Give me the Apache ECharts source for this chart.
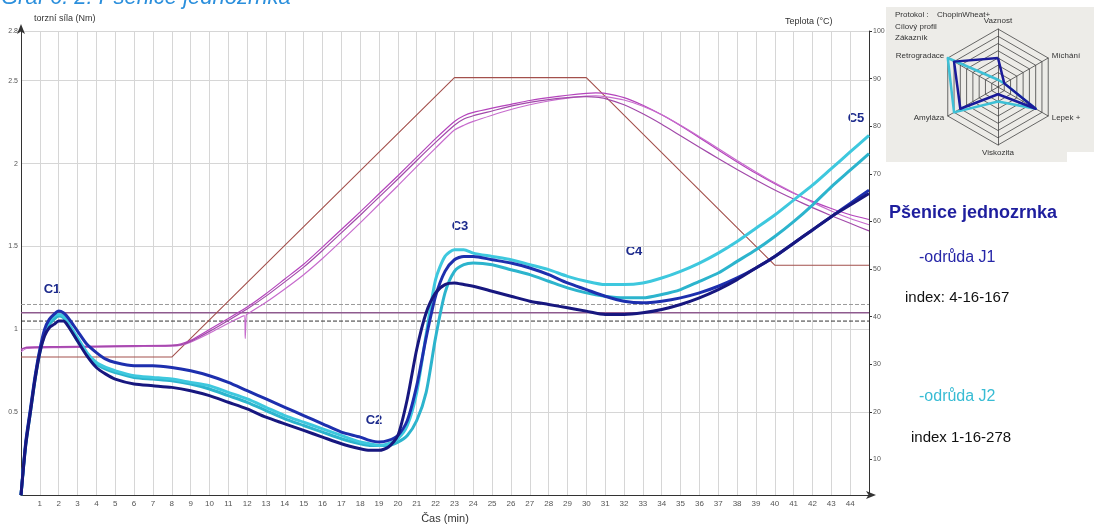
<!DOCTYPE html>
<html>
<head>
<meta charset="utf-8">
<script src="https://cdn.jsdelivr.net/npm/echarts@6/dist/echarts.min.js"></script>
<style>
  html, body { margin: 0; padding: 0; background: #ffffff; }
  #chart { width: 1094px; height: 529px; }
</style>
</head>
<body>
<div id="chart"></div>
<script>
// Mixolab torque curves (Nm) over mixing time (min)
const minutes = [0, 0.25, 0.5, 0.75, 1, 1.25, 1.5, 1.75, 2, 2.25, 2.5,
  3, 3.5, 4, 4.5,
  5, 6, 7, 8, 9, 10, 11, 12, 13, 14, 15, 16, 17, 18,
  18.5, 19, 19.5, 20, 20.5, 21, 21.5, 22, 22.5, 23, 23.5, 24,
  25, 26, 27, 28, 29, 30, 31, 32, 33, 34, 35, 36, 37, 38, 39, 40, 41, 42, 43, 44, 45];

const torqueJ1a = [0, 0.32, 0.52, 0.72, 0.88, 1.00, 1.06, 1.09, 1.11, 1.10, 1.07,
  0.99, 0.91, 0.86, 0.82,
  0.80, 0.78, 0.78, 0.77, 0.75, 0.72, 0.68, 0.63, 0.58, 0.53, 0.48, 0.43, 0.38, 0.35,
  0.33, 0.32, 0.33, 0.36, 0.45, 0.66, 0.95, 1.20, 1.35, 1.42, 1.44, 1.44,
  1.42, 1.40, 1.37, 1.33, 1.28, 1.24, 1.20, 1.17, 1.16, 1.17, 1.19, 1.22, 1.26, 1.31, 1.37, 1.44, 1.52, 1.60, 1.68, 1.76, 1.84];

const torqueJ1b = [0, 0.30, 0.50, 0.70, 0.86, 0.96, 1.01, 1.03, 1.05, 1.05, 1.02,
  0.93, 0.84, 0.77, 0.73,
  0.70, 0.67, 0.66, 0.65, 0.63, 0.60, 0.56, 0.52, 0.47, 0.43, 0.39, 0.35, 0.31, 0.28,
  0.27, 0.27, 0.29, 0.36, 0.58, 0.88, 1.10, 1.22, 1.27, 1.28, 1.27, 1.26,
  1.23, 1.20, 1.17, 1.15, 1.13, 1.11, 1.09, 1.09, 1.10, 1.12, 1.15, 1.19, 1.24, 1.30, 1.37, 1.44, 1.52, 1.60, 1.68, 1.75, 1.82];

const torqueJ2a = [0, 0.31, 0.51, 0.71, 0.87, 0.98, 1.05, 1.08, 1.09, 1.08, 1.04,
  0.95, 0.86, 0.80, 0.77,
  0.75, 0.72, 0.71, 0.70, 0.68, 0.66, 0.62, 0.58, 0.53, 0.48, 0.44, 0.40, 0.36, 0.32,
  0.31, 0.30, 0.31, 0.34, 0.42, 0.62, 0.97, 1.30, 1.44, 1.48, 1.48, 1.46,
  1.44, 1.42, 1.39, 1.36, 1.32, 1.29, 1.27, 1.27, 1.28, 1.31, 1.35, 1.40, 1.46, 1.53, 1.61, 1.69, 1.78, 1.87, 1.97, 2.07, 2.17];

const torqueJ2b = [0, 0.30, 0.50, 0.70, 0.86, 0.97, 1.03, 1.06, 1.08, 1.07, 1.03,
  0.93, 0.85, 0.79, 0.76,
  0.74, 0.71, 0.70, 0.69, 0.67, 0.64, 0.60, 0.56, 0.51, 0.46, 0.42, 0.38, 0.34, 0.31,
  0.30, 0.30, 0.30, 0.32, 0.36, 0.45, 0.62, 0.95, 1.22, 1.35, 1.39, 1.40,
  1.39, 1.36, 1.33, 1.29, 1.25, 1.22, 1.20, 1.19, 1.19, 1.21, 1.24, 1.29, 1.34, 1.41, 1.48, 1.56, 1.65, 1.75, 1.86, 1.96, 2.06];

// Dough temperature readings (°C)
const tempMinutes = [0, 0.3, 2, 4, 6, 8, 8.5,
  9, 10, 11, 12, 13, 14, 15, 16, 17, 18, 19, 20, 21, 22, 23,
  23.5, 24, 25, 26, 27, 28, 29, 30, 30.5,
  31, 32, 33, 34, 35, 36, 37, 38, 39, 40, 41, 42, 43, 44, 45];

const doughTemp1 = [33.0, 33.6, 33.7, 33.8, 33.9, 34.0, 34.3,
  35.0, 37.3, 39.6, 42.0, 44.8, 47.9, 51.0, 54.6, 58.3, 62.0, 65.8, 69.6, 73.5, 77.4, 81.0,
  82.2, 82.9, 83.8, 84.6, 85.4, 86.0, 86.5, 86.9, 87.0,
  86.9, 86.0, 84.4, 82.4, 80.1, 77.6, 75.0, 72.5, 70.1, 67.9, 65.9, 64.2, 62.7, 61.4, 60.4];

const doughTemp2 = [32.6, 33.3, 33.5, 33.6, 33.7, 33.8, 34.0,
  34.6, 36.5, 38.6, 40.5, 43.0, 45.8, 48.8, 52.2, 55.9, 59.7, 63.6, 67.5, 71.5, 75.4, 79.2,
  80.2, 81.0, 82.3, 83.5, 84.5, 85.3, 85.9, 86.3, 86.4,
  86.2, 85.5, 84.2, 82.4, 80.2, 77.8, 75.3, 72.8, 70.4, 68.1, 66.0, 64.0, 62.2, 60.6, 59.3];

const doughTemp3 = [33.2, 33.5, 33.6, 33.7, 33.8, 33.9, 34.1,
  34.8, 36.9, 39.2, 41.6, 44.3, 47.3, 50.4, 53.9, 57.6, 61.3, 65.1, 68.9, 72.8, 76.6, 80.2,
  81.5, 82.2, 83.2, 84.2, 85.0, 85.6, 86.0, 86.2, 86.1,
  85.8, 84.5, 82.6, 80.4, 78.0, 75.6, 73.2, 70.9, 68.7, 66.6, 64.7, 62.9, 61.2, 59.6, 58.0];

// short sensor dropout in the second temperature trace
const dropoutMinutes = [11.85, 11.9, 11.95];
const dropoutTemps = [40.2, 35.4, 40.3];

// Programmed temperature profile of the protocol (°C)
const profileMinutes = [0, 8, 23, 30, 40, 45];
const profileTemps = [31.5, 31.5, 90.2, 90.2, 50.8, 50.8];

// C1 target band (Nm)
const c1Band = { low: 1.05, mid: 1.1, high: 1.15 };

// Axis tick labels
const torqueTicks = [0.5, 1, 1.5, 2, 2.5, 2.8];
const tempTicks = [10, 20, 30, 40, 50, 60, 70, 80, 90, 100];

// Profiler indices
const profilerAxes = ['Vaznost', 'Retrogradace', 'Amyláza', 'Viskozita', 'Lepek +', 'Míchání'];
const profilerJ1 = [4, 7, 6, 1, 6, 1];
const profilerJ2 = [1, 8, 7, 2, 6, 1];

const pairs = (xs, ys) => xs.map((x, i) => [x, ys[i]]);
const temp2 = pairs(tempMinutes, doughTemp2)
  .concat(pairs(dropoutMinutes, dropoutTemps))
  .sort((a, b) => a[0] - b[0]);

const FONT = 'Liberation Sans, Arial, sans-serif';

const chart = echarts.init(document.getElementById('chart'), null, { renderer: 'canvas' });

function torqueLine(name, data, color) {
  return {
    name, type: 'line', xAxisIndex: 0, yAxisIndex: 0,
    data: pairs(minutes, data), showSymbol: false, smooth: 0.25,
    lineStyle: { color, width: 3 }, silent: true, z: 5
  };
}
function tempLine(name, data, color) {
  return {
    name, type: 'line', xAxisIndex: 0, yAxisIndex: 1,
    data, showSymbol: false, smooth: 0.2,
    lineStyle: { color, width: 1.2 }, silent: true, z: 3
  };
}
function bandLine(value, color, type, width) {
  return {
    type: 'line', xAxisIndex: 0, yAxisIndex: 0,
    data: [[0, value], [45, value]], showSymbol: false,
    lineStyle: { color, type, width }, silent: true, z: 2
  };
}

const option = {
  animation: false,
  backgroundColor: '#ffffff',
  textStyle: { fontFamily: FONT },
  grid: { left: 21, right: 225, top: 31, bottom: 27, containLabel: false },
  xAxis: {
    type: 'value', min: 0, max: 45, interval: 1,
    name: 'Čas (min)', nameLocation: 'middle', nameGap: 17,
    nameTextStyle: { fontFamily: FONT, fontSize: 11, color: '#333' },
    axisLine: { lineStyle: { color: '#333', width: 1 }, symbol: ['none', 'arrow'], symbolSize: [6, 10], symbolOffset: [0, 7] },
    axisTick: { show: false },
    axisLabel: {
      fontSize: 8, color: '#555', margin: 5, fontFamily: FONT,
      formatter: v => (v >= 1 && v <= 44) ? String(v) : ''
    },
    splitLine: { show: true, lineStyle: { color: '#d6d6d6', width: 1 } }
  },
  yAxis: [
    {
      type: 'value', min: 0, max: 2.8, position: 'left',
      axisLine: { show: true, lineStyle: { color: '#333', width: 1 }, symbol: ['none', 'arrow'], symbolSize: [6, 10], symbolOffset: [0, 7] },
      axisTick: { show: false },
      axisLabel: {
        fontSize: 7, color: '#555', margin: 3, fontFamily: FONT,
        customValues: torqueTicks,
        formatter: v => String(v)
      },
      splitLine: { show: true, lineStyle: { color: '#d6d6d6', width: 1 } },
      interval: 0.5
    },
    {
      type: 'value', min: 2.5, max: 100, position: 'right',
      axisLine: { show: true, lineStyle: { color: '#333', width: 1 } },
      axisTick: { show: true, length: 3, customValues: tempTicks, lineStyle: { color: '#333' } },
      axisLabel: { fontSize: 7, color: '#555', margin: 4, fontFamily: FONT, customValues: tempTicks },
      splitLine: { show: false }
    }
  ],
  radar: {
    center: [998, 87], radius: 58, startAngle: 90, shape: 'polygon', splitNumber: 8,
    indicator: profilerAxes.map(n => ({ name: n, max: 8 })),
    axisName: { color: '#333', fontSize: 8, fontFamily: FONT },
    nameGap: 4,
    axisLine: { lineStyle: { color: '#444', width: 0.8 } },
    splitLine: { lineStyle: { color: '#444', width: 0.8 } },
    splitArea: { show: false }
  },
  graphic: [
    // profiler inset background
    { type: 'rect', shape: { x: 886, y: 7, width: 208, height: 145 }, style: { fill: '#edece8' }, z: -10, silent: true },
    { type: 'rect', shape: { x: 886, y: 152, width: 181, height: 10 }, style: { fill: '#edece8' }, z: -10, silent: true },
    { type: 'text', x: 895, y: 15, style: { text: 'Protokol :', font: '8px ' + FONT, fill: '#333', textVerticalAlign: 'middle' } },
    { type: 'text', x: 937, y: 15, style: { text: 'ChopinWheat+', font: '8px ' + FONT, fill: '#333', textVerticalAlign: 'middle' } },
    { type: 'text', x: 895, y: 27, style: { text: 'Cílový profil', font: '8px ' + FONT, fill: '#333', textVerticalAlign: 'middle' } },
    { type: 'text', x: 895, y: 38, style: { text: 'Zákazník', font: '8px ' + FONT, fill: '#333', textVerticalAlign: 'middle' } },

    // heading, partly above the page edge
    { type: 'text', x: 1, y: 9, style: { text: 'Graf 6. 2: Pšenice jednozrnka', font: 'italic 22px ' + FONT, fill: '#2b8fdc', textVerticalAlign: 'bottom' } },

    // axis titles
    { type: 'text', x: 34, y: 19, style: { text: 'torzní síla (Nm)', font: '9px ' + FONT, fill: '#333', textVerticalAlign: 'middle' } },
    { type: 'text', x: 785, y: 22, style: { text: 'Teplota (°C)', font: '9px ' + FONT, fill: '#333', textVerticalAlign: 'middle' } },

    // stage markers
    { type: 'text', x: 52, y: 289, style: { text: 'C1', font: 'bold 13px ' + FONT, fill: '#1c2a8c', textAlign: 'center', textVerticalAlign: 'middle' } },
    { type: 'text', x: 374, y: 420, style: { text: 'C2', font: 'bold 13px ' + FONT, fill: '#1c2a8c', textAlign: 'center', textVerticalAlign: 'middle' } },
    { type: 'text', x: 460, y: 226, style: { text: 'C3', font: 'bold 13px ' + FONT, fill: '#1c2a8c', textAlign: 'center', textVerticalAlign: 'middle' } },
    { type: 'text', x: 634, y: 251, style: { text: 'C4', font: 'bold 13px ' + FONT, fill: '#1c2a8c', textAlign: 'center', textVerticalAlign: 'middle' } },
    { type: 'text', x: 856, y: 118, style: { text: 'C5', font: 'bold 13px ' + FONT, fill: '#1c2a8c', textAlign: 'center', textVerticalAlign: 'middle' } },

    // sample description
    { type: 'text', x: 889, y: 213, style: { text: 'Pšenice jednozrnka', font: 'bold 18px ' + FONT, fill: '#1e1e9e', textVerticalAlign: 'middle' } },
    { type: 'text', x: 919, y: 258, style: { text: '-odrůda J1', font: '16px ' + FONT, fill: '#2626a8', textVerticalAlign: 'middle' } },
    { type: 'text', x: 905, y: 298, style: { text: 'index: 4-16-167', font: '15px ' + FONT, fill: '#111', textVerticalAlign: 'middle' } },
    { type: 'text', x: 919, y: 397, style: { text: '-odrůda J2', font: '16px ' + FONT, fill: '#38bcd4', textVerticalAlign: 'middle' } },
    { type: 'text', x: 911, y: 438, style: { text: 'index 1-16-278', font: '15px ' + FONT, fill: '#111', textVerticalAlign: 'middle' } }
  ],
  series: [
    bandLine(c1Band.high, '#9a9a9a', 'dashed', 1),
    bandLine(c1Band.mid, '#8e5a8e', 'solid', 1.5),
    bandLine(c1Band.low, '#333333', 'dashed', 1),
    {
      name: 'profil teploty', type: 'line', xAxisIndex: 0, yAxisIndex: 1,
      data: pairs(profileMinutes, profileTemps), showSymbol: false,
      lineStyle: { color: '#a3504c', width: 1.1 }, silent: true, z: 3
    },
    tempLine('teplota 1', pairs(tempMinutes, doughTemp1), '#b444bc'),
    tempLine('teplota 2', temp2, '#c76ccd'),
    tempLine('teplota 3', pairs(tempMinutes, doughTemp3), '#a24aaa'),
    torqueLine('J2 b', torqueJ2b, '#2cb4cd'),
    torqueLine('J2 a', torqueJ2a, '#3ec8de'),
    torqueLine('J1 a', torqueJ1a, '#1d2fae'),
    torqueLine('J1 b', torqueJ1b, '#17177f'),
    {
      type: 'radar', silent: true, symbol: 'none',
      data: [
        { name: 'J2', value: profilerJ2, lineStyle: { color: '#3ec0d6', width: 2.5 } },
        { name: 'J1', value: profilerJ1, lineStyle: { color: '#1a1a9a', width: 2.5 } }
      ]
    }
  ]
};

chart.setOption(option);
</script>
</body>
</html>
